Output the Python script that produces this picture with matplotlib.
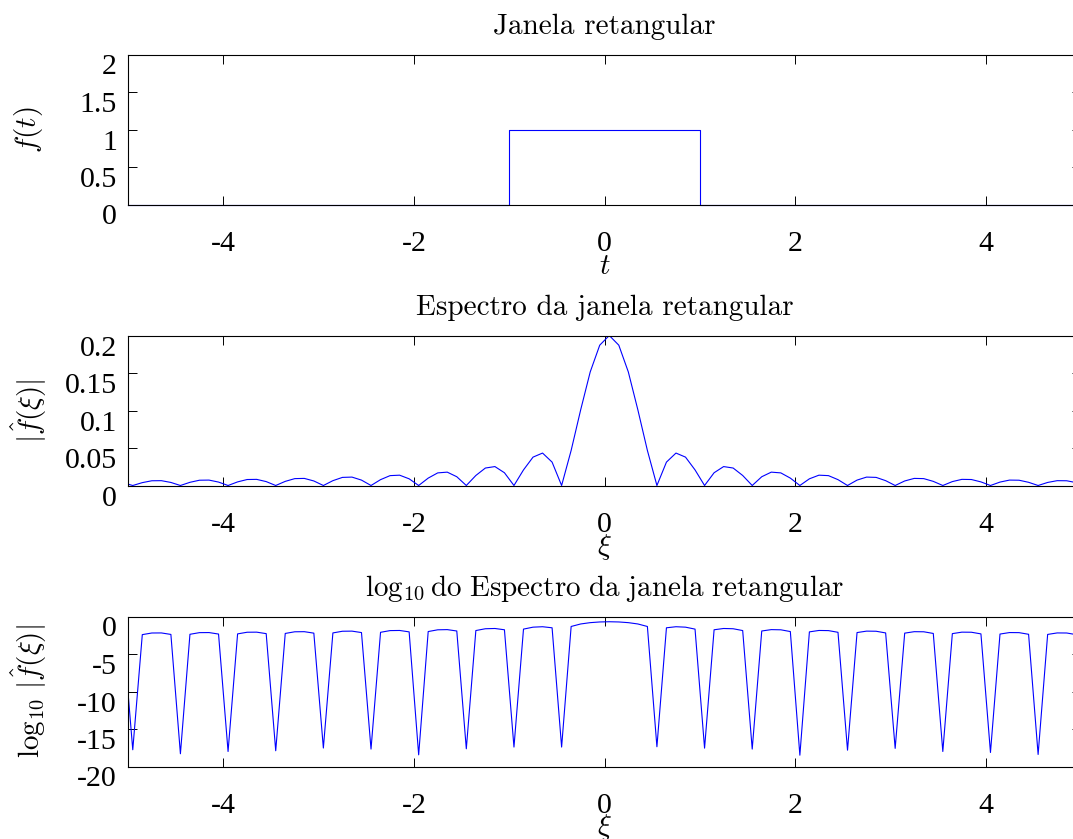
import numpy as np
import matplotlib.pyplot as plt

plt.rcParams['mathtext.fontset'] = 'cm'
plt.rcParams['axes.unicode_minus'] = False

# janela retangular no tempo
t = [-5, -1, -1, 1, 1, 5]
f_t = [0, 0, 1, 1, 0, 0]

# frequencias amostradas (passo 0.1)
xi = np.linspace(-5.05, 5.05, 102)

# modulo do espectro |f^(xi)| (zeros numericos ~1e-18)
f_hat = [
    0.00367, 1.7e-18, 0.00382, 0.00631, 0.00644, 0.00407,
    5.0e-19, 0.00425, 0.00704, 0.00721, 0.00456,
    1.0e-18, 0.00480, 0.00797, 0.00818, 0.00520,
    1.26e-18, 0.00550, 0.00917, 0.00946, 0.00604,
    2.9e-18, 0.00645, 0.01081, 0.01121, 0.00720,
    2.1e-18, 0.00780, 0.01316, 0.01376, 0.00891,
    3.6e-19, 0.00985, 0.01682, 0.01781, 0.01169,
    2.3e-18, 0.01336, 0.02329, 0.02523, 0.01701,
    3.9e-18, 0.02079, 0.03784, 0.04325, 0.03118,
    3.9e-18, 0.04677, 0.1009, 0.1514, 0.1871,
    0.2,
    0.1871, 0.1514, 0.1009, 0.04677, 4.3e-18,
    0.03118, 0.04325, 0.03784, 0.02079, 2.8e-18,
    0.01701, 0.02523, 0.02329, 0.01336, 2.1e-18,
    0.01169, 0.01781, 0.01682, 0.00985, 3.2e-19,
    0.00891, 0.01376, 0.01316, 0.00780, 1.5e-18,
    0.00720, 0.01121, 0.01081, 0.00645, 2.6e-18,
    0.00604, 0.00946, 0.00917, 0.00550, 1.0e-18,
    0.00520, 0.00818, 0.00797, 0.00480, 7.4e-19,
    0.00456, 0.00721, 0.00704, 0.00425, 4.0e-19,
    0.00407, 0.00644, 0.00631, 0.00382, 1.0e-18,
]
log_f_hat = np.log10(f_hat)

xticks = [-4, -2, 0, 2, 4]
xticklabels = ['-4', '-2', '0', '2', '4']

W, H = 1073, 839
fig = plt.figure(figsize=(W / 100, H / 100), dpi=100)

TICK_FONT = 'Liberation Serif'
TEXT_FONT = 'cmr10'
FS = 21


def make_axes(top_px, title, ylabel, xlabel, yticks, yticklabels, ylim):
    ax = fig.add_axes([128 / W, 1 - (top_px + 150) / H, 953 / W, 150 / H])
    ax.set_xlim(-5, 5)
    ax.set_ylim(*ylim)
    ax.set_xticks(xticks, xticklabels)
    ax.set_yticks(yticks, yticklabels)
    ax.tick_params(direction='in', length=6.5, width=0.7, top=True, right=True,
                   labelsize=21.5, labelfontfamily=TICK_FONT)
    ax.tick_params(axis='x', pad=19)
    ax.tick_params(axis='y', pad=8)
    for tk in ax.yaxis.get_major_ticks():
        tk.label1.set_va('top')
    for s in ax.spines.values():
        s.set_linewidth(0.8)
    ax.set_title(title, fontsize=FS, fontfamily=TEXT_FONT, pad=15)
    ax.set_ylabel(ylabel, fontsize=FS)
    ax.yaxis.set_label_coords(-99 / 953, 0.5)
    ax.yaxis.label.set_va('center')
    ax.set_xlabel(xlabel, fontsize=FS)
    ax.xaxis.set_label_coords(0.5, -61 / 150)
    ax.xaxis.label.set_va('center')
    return ax


ax1 = make_axes(54.5, 'Janela retangular', r'$f(t)$', r'$t$',
                [0, 0.5, 1, 1.5, 2], ['0', '0.5', '1', '1.5', '2'], (0, 2))
ax1.plot(t, f_t, color='blue', lw=0.8, clip_on=False)

ax2 = make_axes(335.5, 'Espectro da janela retangular', r'$|\hat{f}(\xi)|$', r'$\xi$',
                [0, 0.05, 0.1, 0.15, 0.2], ['0', '0.05', '0.1', '0.15', '0.2'], (0, 0.2))
ax2.plot(xi, f_hat, color='blue', lw=0.8)

ax3 = make_axes(616.5, r'$\log_{10}\mathrm{do\ Espectro\ da\ janela\ retangular}$',
                r'$\log_{10}\,|\hat{f}(\xi)|$', r'$\xi$',
                [-20, -15, -10, -5, 0], ['-20', '-15', '-10', '-5', '0'], (-20, 0))
ax3.plot(xi, log_f_hat, color='blue', lw=0.8)

fig.savefig('out.png', dpi=100)
